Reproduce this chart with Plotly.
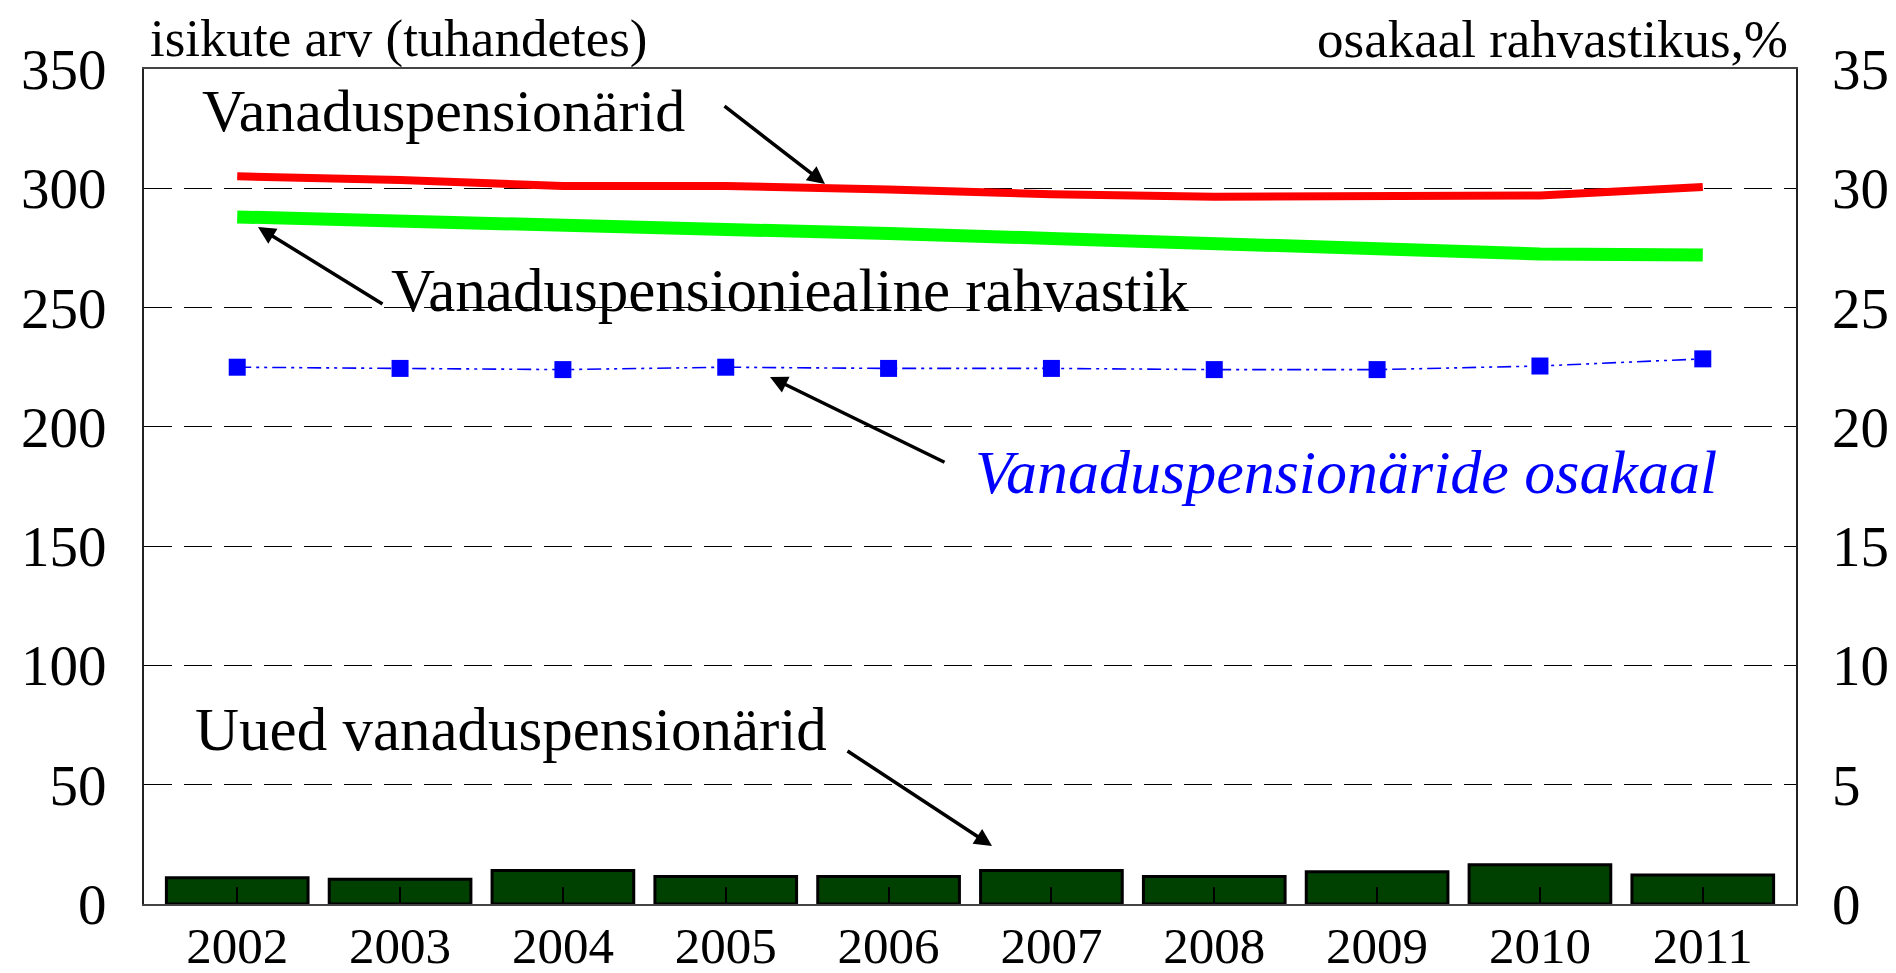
import plotly.graph_objects as go

years = ["2002", "2003", "2004", "2005", "2006", "2007", "2008", "2009", "2010", "2011"]
uued = [11.0, 10.4, 14.0, 11.5, 11.5, 14.0, 11.5, 13.5, 16.4, 12.2]
pensionarid = [305, 303.5, 301, 301, 299.5, 297.5, 296.5, 296.5, 297, 300.5]
rahvastik = [288, 286.5, 284.5, 282.5, 281, 279, 277, 274.5, 272.5, 272]
osakaal = [22.5, 22.45, 22.4, 22.5, 22.45, 22.45, 22.4, 22.4, 22.55, 22.85]

# page is rendered with the default 8px body margin: size the figure to fit the window
OFF = 8
W, H = 1896, 973
L, R, T, B = 144, 1796, 69, 904
FONT = "Liberation Serif"

def px(X):
    return (X - L) / (R - L)

def py(Y):
    return (B - Y) / (B - T)

fig = go.Figure()
fig.add_trace(go.Bar(x=years, y=uued, marker=dict(color="#004000", line=dict(color="black", width=3)),
                     yaxis="y", showlegend=False))
fig.add_trace(go.Scatter(x=years, y=rahvastik, mode="lines", line=dict(color="#00ff00", width=13),
                         yaxis="y", showlegend=False))
fig.add_trace(go.Scatter(x=years, y=pensionarid, mode="lines", line=dict(color="#ff0000", width=8),
                         yaxis="y", showlegend=False))
fig.add_trace(go.Scatter(x=years, y=osakaal, mode="lines+markers",
                         line=dict(color="#0000ff", width=1.6, dash="14px,5px,3px,5px,3px,5px"),
                         marker=dict(symbol="square", size=17, color="#0000ff"),
                         yaxis="y2", showlegend=False))

tickfont = dict(family=FONT, size=57, color="black")

fig.update_layout(
    width=W - OFF, height=H - OFF,
    margin=dict(l=L - OFF, r=W - R, t=T - OFF, b=H - B),
    paper_bgcolor="white", plot_bgcolor="white",
    bargap=0.13,
    xaxis=dict(type="category", showline=True, linecolor="#444", linewidth=2, mirror=True,
               ticks="inside", ticklen=17, tickwidth=1.5, tickcolor="black", automargin=False,
               tickfont=dict(family=FONT, size=51, color="black"), ticklabelstandoff=-4, showgrid=False),
    yaxis=dict(range=[0, 350], dtick=50, showline=True, linecolor="#222", linewidth=2, mirror=True,
               showgrid=True, gridcolor="black", gridwidth=1.3, griddash="28px,12px", automargin=False,
               tickfont=tickfont, ticks="", ticklabelstandoff=24, zeroline=False),
    yaxis2=dict(range=[0, 35], dtick=5, overlaying="y", side="right", showgrid=False, automargin=False,
                tickfont=tickfont, ticks="", ticklabelstandoff=35, zeroline=False, showline=False),
)

annfont = dict(family=FONT, size=53, color="black")
anns = [
    dict(text="isikute arv (tuhandetes)", x=px(148), y=py(39), xanchor="left", yanchor="middle", font=annfont),
    dict(text="osakaal rahvastikus,%", x=px(1790), y=py(39), xanchor="right", yanchor="middle", font=annfont),
    dict(text="Vanaduspensionärid", x=px(200), y=py(111), xanchor="left", yanchor="middle",
         font=dict(family=FONT, size=60, color="black")),
    dict(text="Vanaduspensioniealine rahvastik", x=px(389), y=py(290), xanchor="left", yanchor="middle",
         font=dict(family=FONT, size=61, color="black")),
    dict(text="<i>Vanaduspensionäride osakaal</i>", x=px(973), y=py(472), xanchor="left", yanchor="middle",
         font=dict(family=FONT, size=62, color="#0000ff")),
    dict(text="Uued vanaduspensionärid", x=px(193), y=py(729), xanchor="left", yanchor="middle",
         font=dict(family=FONT, size=61, color="black")),
]
for a in anns:
    a.update(xref="paper", yref="paper", showarrow=False)
    fig.add_annotation(**a)

arrows = [
    ((723, 105), (825, 184)),
    ((384, 305), (258, 227)),
    ((946, 463), (770, 377)),
    ((846, 750), (992, 846)),
]
for (tx, ty), (hx, hy) in arrows:
    fig.add_annotation(x=px(hx), y=py(hy), xref="paper", yref="paper", text="",
                       showarrow=True, ax=tx - hx, ay=ty - hy, axref="pixel", ayref="pixel",
                       arrowhead=2, arrowsize=1, arrowwidth=3.5, arrowcolor="black", standoff=0)

fig.write_html("out.html")
